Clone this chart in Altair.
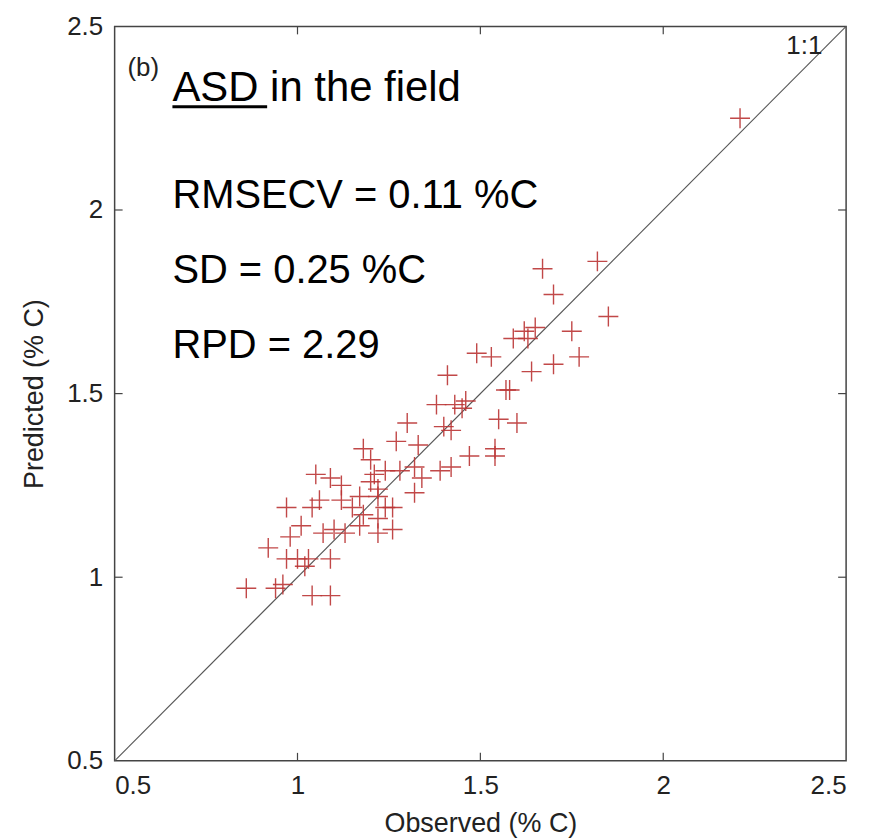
import altair as alt
import pandas as pd

# Observed vs predicted (% C)
observed = [2.21, 1.82, 1.67, 1.70, 1.85, 1.75, 1.65, 1.62, 1.59, 1.63,
            1.77, 1.70, 1.64, 1.49, 1.53, 1.57, 1.58, 1.55, 1.60, 1.41,
            1.38, 1.43, 1.46, 1.45, 1.40, 1.42, 1.47, 1.54, 1.54, 1.39,
            1.42, 1.30, 1.27, 1.33, 1.18, 1.20, 1.24, 1.28, 1.32, 1.34,
            1.32, 1.09, 1.20, 1.12, 1.22, 1.12, 1.15, 1.26, 1.24, 1.18,
            1.22, 1.26, 1.10, 1.22, 1.05, 0.97, 1.06, 1.04, 1.17, 1.01,
            0.98, 1.07, 1.13, 1.17, 0.92, 0.97, 1.00, 1.03, 1.09, 1.02,
            0.96, 0.86, 0.94, 1.04, 1.09, 1.21, 1.22]
predicted = [2.25, 1.86, 1.84, 1.77, 1.71, 1.67, 1.68, 1.67, 1.65, 1.65,
             1.60, 1.58, 1.56, 1.61, 1.60, 1.51, 1.51, 1.43, 1.42, 1.55,
             1.47, 1.47, 1.48, 1.46, 1.41, 1.40, 1.33, 1.35, 1.33, 1.29,
             1.30, 1.42, 1.37, 1.36, 1.35, 1.32, 1.29, 1.29, 1.30, 1.27,
             1.23, 1.27, 1.26, 1.25, 1.24, 1.21, 1.19, 1.19, 1.19, 1.17,
             1.16, 1.13, 1.13, 1.12, 1.28, 1.19, 1.21, 1.19, 1.22, 1.14,
             1.11, 1.12, 1.12, 1.14, 1.08, 1.05, 1.05, 1.05, 1.05, 1.03,
             0.98, 0.97, 0.97, 0.95, 0.95, 1.28, 1.22]

tick_values = [0.5, 1, 1.5, 2, 2.5]
inner_ticks = [1, 1.5, 2]
one_to_one = [0.5, 2.5]

stat_text = ["ASD in the field", "RMSECV = 0.11 %C", "SD = 0.25 %C", "RPD = 2.29"]
stat_x = [0.658, 0.658, 0.658, 0.658]
stat_y = [2.296, 2.005, 1.80, 1.596]
stat_size = [42, 40, 40, 40]

panel_label = ["(b)"]
panel_x = [0.535]
panel_y = [2.364]

underline_x = [0.658]
underline_x2 = [0.917]
underline_y = [2.281]

ratio_label = ["1:1"]
ratio_x = [2.435]
ratio_y = [2.424]

W, H = 734, 737
TL = 8
SANS = "Liberation Sans"

pts = pd.DataFrame({"Observed": observed, "Predicted": predicted})
line_df = pd.DataFrame({"Observed": one_to_one, "Predicted": one_to_one})
ticks_df = pd.DataFrame({"v": inner_ticks})
stat_df = pd.DataFrame({"t": stat_text, "x": stat_x, "y": stat_y, "s": stat_size})
panel_df = pd.DataFrame({"t": panel_label, "x": panel_x, "y": panel_y})
ul_df = pd.DataFrame({"x": underline_x, "x2": underline_x2, "y": underline_y})
ratio_df = pd.DataFrame({"t": ratio_label, "x": ratio_x, "y": ratio_y})

xs = alt.Scale(domain=[0.5, 2.5], nice=False, zero=False)
ys = alt.Scale(domain=[0.5, 2.5], nice=False, zero=False)

x_axis = alt.Axis(values=tick_values, format="~g", grid=False, ticks=False, domain=False,
                  labelFont=SANS, labelFontSize=26, labelColor="#222222",
                  labelPadding=12, title="Observed (% C)", titleFont=SANS,
                  titleFontSize=27, titleFontWeight="normal", titleColor="#222222",
                  titleX=W / 2, titleY=63, titleBaseline="middle")
y_axis = alt.Axis(values=tick_values, format="~g", grid=False, ticks=False, domain=False,
                  labelFont=SANS, labelFontSize=26, labelColor="#222222",
                  labelPadding=12, title="Predicted (% C)", titleFont=SANS,
                  titleFontSize=27, titleFontWeight="normal", titleColor="#222222",
                  titleX=-80, titleY=H / 2, titleBaseline="middle", titleAngle=-90)

points = alt.Chart(pts).mark_point(
    shape="M-1,0L1,0M0,-1L0,1", filled=False, color="#bb3535", strokeWidth=1.4,
    size=400, opacity=0.9
).encode(
    x=alt.X("Observed:Q", scale=xs, axis=x_axis),
    y=alt.Y("Predicted:Q", scale=ys, axis=y_axis),
)

diag = alt.Chart(line_df).mark_line(color="#555555", strokeWidth=1.1).encode(
    x=alt.X("Observed:Q", scale=xs), y=alt.Y("Predicted:Q", scale=ys)
)

tick_style = dict(color="#444444", strokeWidth=1.2)
bottom_ticks = alt.Chart(ticks_df).mark_rule(**tick_style).encode(
    x=alt.X("v:Q", scale=xs), y=alt.value(H), y2=alt.value(H - TL))
top_ticks = alt.Chart(ticks_df).mark_rule(**tick_style).encode(
    x=alt.X("v:Q", scale=xs), y=alt.value(0), y2=alt.value(TL))
left_ticks = alt.Chart(ticks_df).mark_rule(**tick_style).encode(
    y=alt.Y("v:Q", scale=ys), x=alt.value(0), x2=alt.value(TL))
right_ticks = alt.Chart(ticks_df).mark_rule(**tick_style).encode(
    y=alt.Y("v:Q", scale=ys), x=alt.value(W), x2=alt.value(W - TL))

stats = alt.Chart(stat_df).mark_text(
    align="left", baseline="alphabetic", font=SANS, color="#000000"
).encode(
    x=alt.X("x:Q", scale=xs), y=alt.Y("y:Q", scale=ys), text="t:N",
    size=alt.Size("s:Q", scale=None, legend=None),
)

panel = alt.Chart(panel_df).mark_text(
    align="left", baseline="alphabetic", font=SANS, fontSize=26,
    color="#222222"
).encode(x=alt.X("x:Q", scale=xs), y=alt.Y("y:Q", scale=ys), text="t:N")

underline = alt.Chart(ul_df).mark_rule(color="#000000", strokeWidth=3).encode(
    x=alt.X("x:Q", scale=xs), x2="x2:Q", y=alt.Y("y:Q", scale=ys))

ratio = alt.Chart(ratio_df).mark_text(
    align="right", baseline="alphabetic", font=SANS, fontSize=26,
    color="#222222"
).encode(x=alt.X("x:Q", scale=xs), y=alt.Y("y:Q", scale=ys), text="t:N")

chart = alt.layer(
    diag, points, bottom_ticks, top_ticks, left_ticks, right_ticks,
    stats, panel, underline, ratio
).properties(
    width=W, height=H,
    autosize=alt.AutoSizeParams(type="none"),
    padding={"left": 107, "top": 17, "right": 30, "bottom": 80},
).configure_view(stroke="#444444", strokeWidth=1.5)

chart.save("out.html", embed_options={"renderer": "svg", "actions": False})
